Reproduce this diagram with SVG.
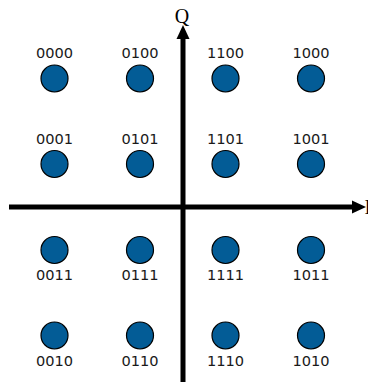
<svg xmlns="http://www.w3.org/2000/svg" width="368" height="382" viewBox="0 0 368 382">
<style>
.pt{fill:#035c96;stroke:#000;stroke-width:1.2}
.lb{font-family:"DejaVu Sans",sans-serif;font-size:14.6px;fill:#1a1a1a;text-anchor:middle}
.ax{font-family:"Liberation Serif",serif;font-size:20px;fill:#000}
</style>
<rect width="368" height="382" fill="#fff"/>
<g id="connectors">
<line x1="183" y1="382" x2="183" y2="38" stroke="#000" stroke-width="5"/>
<path d="M183 25 L189.5 39 L176.5 39 Z" fill="#000"/>
<line x1="9" y1="207" x2="354" y2="207" stroke="#000" stroke-width="5"/>
<path d="M366 207 L352 200.5 L352 213.5 Z" fill="#000"/>
</g>
<g id="axisQ"><text class="ax" x="182" y="23" text-anchor="middle">Q</text></g>
<g id="axisI"><text class="ax" x="364.5" y="214">I</text></g>
<g id="n0000"><circle class="pt" cx="54.5" cy="78.5" r="13.5"/><text class="lb" x="54.5" y="58">0000</text></g>
<g id="n0100"><circle class="pt" cx="140" cy="78.5" r="13.5"/><text class="lb" x="140" y="58">0100</text></g>
<g id="n1100"><circle class="pt" cx="225.5" cy="78.5" r="13.5"/><text class="lb" x="225.5" y="58">1100</text></g>
<g id="n1000"><circle class="pt" cx="311" cy="78.5" r="13.5"/><text class="lb" x="311" y="58">1000</text></g>
<g id="n0001"><circle class="pt" cx="54.5" cy="164" r="13.5"/><text class="lb" x="54.5" y="143.5">0001</text></g>
<g id="n0101"><circle class="pt" cx="140" cy="164" r="13.5"/><text class="lb" x="140" y="143.5">0101</text></g>
<g id="n1101"><circle class="pt" cx="225.5" cy="164" r="13.5"/><text class="lb" x="225.5" y="143.5">1101</text></g>
<g id="n1001"><circle class="pt" cx="311" cy="164" r="13.5"/><text class="lb" x="311" y="143.5">1001</text></g>
<g id="n0011"><circle class="pt" cx="54.5" cy="250" r="13.5"/><text class="lb" x="54.5" y="280">0011</text></g>
<g id="n0111"><circle class="pt" cx="140" cy="250" r="13.5"/><text class="lb" x="140" y="280">0111</text></g>
<g id="n1111"><circle class="pt" cx="225.5" cy="250" r="13.5"/><text class="lb" x="225.5" y="280">1111</text></g>
<g id="n1011"><circle class="pt" cx="311" cy="250" r="13.5"/><text class="lb" x="311" y="280">1011</text></g>
<g id="n0010"><circle class="pt" cx="54.5" cy="335.5" r="13.5"/><text class="lb" x="54.5" y="365.5">0010</text></g>
<g id="n0110"><circle class="pt" cx="140" cy="335.5" r="13.5"/><text class="lb" x="140" y="365.5">0110</text></g>
<g id="n1110"><circle class="pt" cx="225.5" cy="335.5" r="13.5"/><text class="lb" x="225.5" y="365.5">1110</text></g>
<g id="n1010"><circle class="pt" cx="311" cy="335.5" r="13.5"/><text class="lb" x="311" y="365.5">1010</text></g>
</svg>
